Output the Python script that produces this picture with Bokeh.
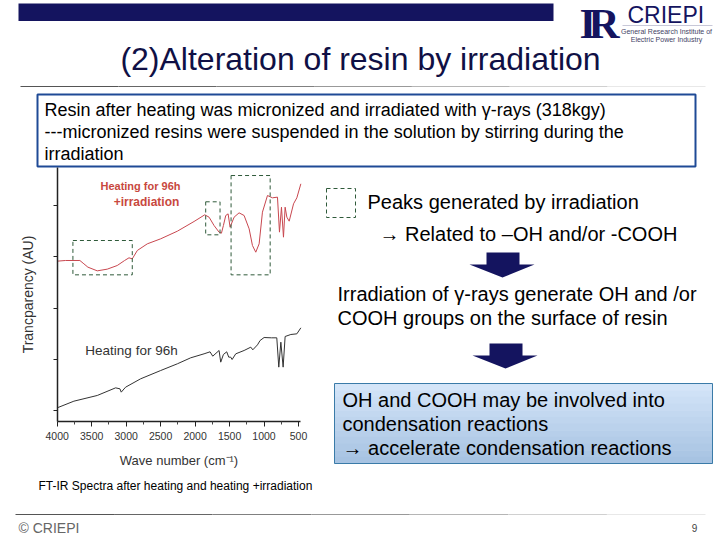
from bokeh.plotting import figure
from bokeh.models import Range1d, Label, FixedTicker
from bokeh.embed import file_html
from bokeh.resources import INLINE

red_wave = [4000,3879,3671,3613,3555,3419,3274,3129,3022,2959,2911,2838,2693,2499,2257,2015,1860,1797,1725,1652,1618,1589,1555,1521,1492,1434,1362,1289,1216,1168,1120,1071,1023,950,878,805,776,747,718,694,669,635,572,524,466]
red_au = [2.914,2.927,2.927,2.862,2.797,2.725,2.758,2.829,2.927,2.979,2.959,3.122,3.252,3.350,3.499,3.688,3.818,3.772,3.610,3.480,3.460,3.610,3.805,3.837,3.577,3.772,3.857,3.805,3.545,3.220,3.089,3.252,3.870,4.195,4.150,4.163,3.480,3.967,3.382,3.967,3.772,3.694,4.033,4.150,4.423]
black_wave = [4000,3758,3419,3153,3090,3071,3008,2790,2499,2257,2064,1870,1783,1744,1652,1628,1589,1541,1512,1483,1463,1410,1289,1192,1163,1095,1057,999,892,815,786,756,723,694,611,524,466]
black_au = [0.052,0.182,0.293,0.442,0.423,0.358,0.455,0.618,0.780,0.911,1.028,1.106,1.145,1.060,1.171,0.943,1.093,1.145,1.041,1.041,0.995,1.106,1.171,1.236,1.184,1.281,1.366,1.424,1.418,1.418,0.846,1.333,0.846,1.444,1.483,1.496,1.613]
x_ticks = [4000,3500,3000,2500,2000,1500,1000,500]
x_minor = [3750,3250,2750,2250,1750,1250,750]
y_ticks = [0,1,2,3,4]
peak_left = [3772,1846,1478]
peak_right = [2911,1638,911]
peak_top = [3.317,4.072,4.585]
peak_bottom = [2.647,3.428,2.647]

NAVY = "#14145f"
SANS = "Liberation Sans"

# page-pixel geometry of the spectrum axes
PX_PER_WAVE = 241.3 / 3500
PX_PER_AU = 51.25
X4000, Y0 = 56.7, 410.0
wave_at = lambda px: 4000 - (px - X4000) / PX_PER_WAVE
au_at = lambda py: (Y0 - py) / PX_PER_AU

p = figure(width=720, height=540, output_backend="svg", toolbar_location=None,
           x_range=Range1d(wave_at(0), wave_at(720)), y_range=Range1d(au_at(540), au_at(0)),
           min_border=0, outline_line_color=None, background_fill_color="white")
p.grid.visible = False
p.extra_x_ranges["page"] = Range1d(0, 720)
p.extra_y_ranges["page"] = Range1d(540, 0)
PG = dict(x_range_name="page", y_range_name="page")

xa = p.xaxis[0]
xa.fixed_location = au_at(420.7)
xa.bounds = (wave_at(300), 4000)
xa.ticker = FixedTicker(ticks=x_ticks, minor_ticks=x_minor)
xa.axis_line_color = "#222222"; xa.axis_line_width = 1.5
xa.major_tick_out = 5; xa.major_tick_in = 0; xa.minor_tick_out = 3; xa.minor_tick_in = 0
xa.major_tick_line_color = "#222222"; xa.minor_tick_line_color = "#444444"
xa.major_label_text_font = SANS; xa.major_label_text_font_size = "10.5px"; xa.major_label_text_color = "#333333"
xa.major_label_standoff = 6
xa.axis_label = "Wave number (cm\u207b\u00b9)"
xa.axis_label_text_font = SANS; xa.axis_label_text_font_size = "13px"; xa.axis_label_text_font_style = "normal"
xa.axis_label_text_color = "#333333"; xa.axis_label_standoff = 9

ya = p.yaxis[0]
ya.fixed_location = 4000
ya.bounds = (au_at(420.7), au_at(167))
ya.ticker = FixedTicker(ticks=y_ticks)
ya.axis_line_color = "#222222"; ya.axis_line_width = 1.5
ya.major_tick_out = 4; ya.major_tick_in = 0; ya.minor_tick_out = 0; ya.minor_tick_in = 0
ya.major_tick_line_color = "#222222"
ya.major_label_overrides = {t: "" for t in y_ticks}
ya.axis_label = "Trancparency (AU)"
ya.axis_label_text_font = SANS; ya.axis_label_text_font_size = "14px"; ya.axis_label_text_font_style = "normal"
ya.axis_label_text_color = "#333333"; ya.axis_label_standoff = 18

# spectra and peak boxes
p.line(red_wave, red_au, line_color="#c8474f", line_width=1)
p.line(black_wave, black_au, line_color="#333333", line_width=1)
p.quad(left=peak_left, right=peak_right, top=peak_top, bottom=peak_bottom, fill_color=None,
       line_color="#2f5a3a", line_width=1, line_dash="4 3")

# slide decoration
p.quad(left=[18], right=[553], top=[3], bottom=[20.5], fill_color=NAVY, line_color=None, **PG)
fade = ["#555555", "#666666", "#808080", "#999999", "#b5b5b5", "#d0d0d0", "#e8e8e8"]
for y0, x_start in ((86, 20), (514, 15)):
    step = (705 - x_start) / len(fade)
    for i, c in enumerate(fade):
        p.line([x_start + i * step, x_start + (i + 1) * step], [y0, y0], line_color=c, line_width=1, **PG)

p.quad(left=[37], right=[695], top=[94], bottom=[166], fill_color="white", line_color="#1f4a96", line_width=2, **PG)
p.quad(left=[326], right=[355], top=[188], bottom=[217], fill_color=None, line_color="#2f5a3a", line_width=1, line_dash="4 3", **PG)

# gradient box
bands = ["#d4e5f8", "#cfe1f6", "#cbdef4", "#c7dbf2", "#c3d8f0", "#bfd5ee", "#bbd2ec", "#b7cfea", "#b3cce8", "#afc9e6", "#abc6e4", "#a7c3e2"]
bh = (463 - 383) / len(bands)
for i, c in enumerate(bands):
    p.quad(left=[334], right=[712], top=[383 + i * bh], bottom=[383 + (i + 1) * bh + 0.5], fill_color=c, line_color=None, **PG)
p.quad(left=[334], right=[712], top=[383], bottom=[463], fill_color=None, line_color="#3a7ba8", line_width=1, **PG)

# down arrows
for cx, top in ((502, 252), (505, 343)):
    p.patch([cx - 16, cx + 17, cx + 17, cx + 32, cx, cx - 33, cx - 16],
            [top, top, top + 12, top + 12, top + 25, top + 12, top + 12],
            fill_color=NAVY, line_color=None, **PG)

def text(x, y, s, size, color="black", font=SANS, style="normal", align="left", baseline="middle"):
    p.add_layout(Label(x=x, y=y, text=s, text_font_size=f"{size}px", text_color=color, text_font=font,
                       text_font_style=style, text_align=align, text_baseline=baseline, **PG))

text(360, 58, "(2)Alteration of resin by irradiation", 32, "#101045", align="center")
text(44, 109, "Resin after heating was micronized and irradiated with \u03b3-rays (318kgy)", 18)
text(44, 131, "---micronized resins were suspended in the solution by stirring during the", 18)
text(44, 153, "irradiation", 18)
text(367, 201, "Peaks generated by irradiation", 20)
text(379, 233, "\u2192 Related to \u2013OH and/or -COOH", 20)
text(337, 293, "Irradiation of \u03b3-rays generate OH and /or", 20)
text(337, 317, "COOH groups on the surface of resin", 20)
text(342, 399, "OH and COOH may be involved into", 20)
text(342, 423, "condensation reactions", 20)
text(342, 447, "\u2192 accelerate condensation reactions", 20)
text(38, 485, "FT-IR Spectra after heating and heating +irradiation", 12)
text(140, 185, "Heating for 96h", 11, "#c8483e", style="bold", align="center")
text(146, 201, "+irradiation", 12, "#c8483e", style="bold", align="center")
text(131, 350, "Heating for 96h", 13.5, "#333333", align="center")
text(18, 527, "\u00a9 CRIEPI", 14, "#666666")
text(694, 527, "9", 10, "#444444", align="center")
# logo
text(579, 23, "I", 43, NAVY, font="Liberation Serif", style="bold", baseline="alphabetic")
text(588, 23, "R", 43, NAVY, font="Liberation Serif", style="bold", baseline="alphabetic")
text(627, 14, "CRIEPI", 23, NAVY)
p.line([622, 712], [25, 25], line_color="#c8c8d8", line_width=1, **PG)
text(666, 31, "General Research Institute of", 7, "#444466", align="center")
text(666, 39, "Electric Power Industry", 7, "#444466", align="center")

open("out.html", "w").write(file_html(p, INLINE))
